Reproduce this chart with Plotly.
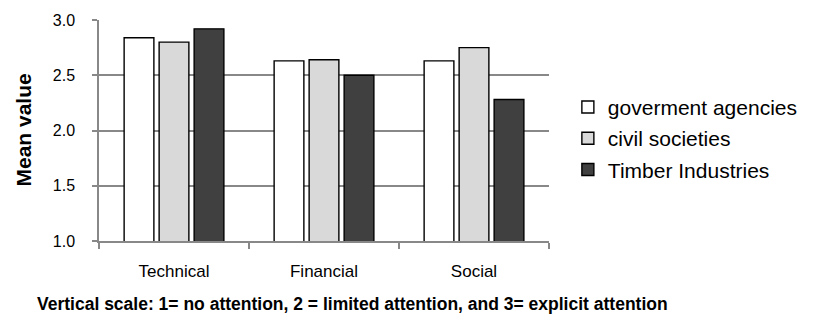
import plotly.graph_objects as go

# Attention dimensions and mean scores per stakeholder group
categories = ["Technical", "Financial", "Social"]
series_names = ["goverment agencies", "civil societies", "Timber Industries"]
gov_values = [2.84, 2.63, 2.63]
civil_values = [2.80, 2.64, 2.75]
timber_values = [2.92, 2.50, 2.28]
y_ticks = [1.0, 1.5, 2.0, 2.5, 3.0]

fills = ["#ffffff", "#d9d9d9", "#404040"]
font_family = "Liberation Sans, Arial, sans-serif"

# Plot-area geometry in pixels
W, H = 815, 326
L, R, T, B = 99, 552, 16, 241


def px_x(p):
    return (p - L) / (R - L)


def px_y(p):
    return (B - p) / (B - T)


fig = go.Figure()
for i, (name, vals) in enumerate(zip(series_names, [gov_values, civil_values, timber_values])):
    fig.add_trace(go.Bar(
        x=categories,
        y=vals,
        name=name,
        legendgroup=f"g{i}",
        marker=dict(color=fills[i], line=dict(color="#000000", width=1.4)),
    ))

fig.update_layout(
    width=W,
    height=H,
    margin=dict(l=L, r=W - R, t=T, b=H - B, pad=0),
    paper_bgcolor="white",
    plot_bgcolor="white",
    barmode="group",
    bargap=0.3,
    bargroupgap=0.15,
    font=dict(family=font_family, color="#000000"),
    showlegend=True,
    legend=dict(
        x=px_x(571), xanchor="left",
        y=px_y(84), yanchor="top",
        font=dict(size=21, family=font_family, color="#000000"),
        traceorder="grouped",
        tracegroupgap=1,
        bgcolor="rgba(0,0,0,0)",
        borderwidth=0,
    ),
    xaxis=dict(
        showgrid=False,
        showline=True,
        linecolor="#888888",
        linewidth=1.5,
        ticks="outside",
        tickson="boundaries",
        ticklen=6,
        tickcolor="#888888",
        tickwidth=1.5,
        tickfont=dict(size=17, family=font_family, color="#000000"),
        ticklabelstandoff=14,
    ),
    yaxis=dict(
        range=[1.0, 3.0],
        tickvals=y_ticks,
        ticktext=[f"{v:.1f}" for v in y_ticks],
        showgrid=True,
        gridcolor="#888888",
        gridwidth=1.5,
        zeroline=False,
        showline=True,
        linecolor="#888888",
        linewidth=1.5,
        ticks="outside",
        ticklen=5,
        tickcolor="#888888",
        tickwidth=1.5,
        tickfont=dict(size=16, family=font_family, color="#000000"),
        ticklabelstandoff=14,
    ),
    annotations=[
        dict(
            text="<b>Mean value</b>",
            xref="paper", yref="paper",
            x=px_x(23), y=px_y(128),
            xanchor="center", yanchor="middle",
            textangle=-90,
            showarrow=False,
            font=dict(size=21, family=font_family, color="#000000"),
        ),
        dict(
            text="<b>Vertical scale: 1= no attention, 2 = limited attention, and 3= explicit attention</b>",
            xref="paper", yref="paper",
            x=px_x(35), y=px_y(305),
            xanchor="left", yanchor="middle",
            showarrow=False,
            font=dict(size=17.5, family=font_family, color="#000000"),
        ),
    ],
)

fig.write_html("out.html")
